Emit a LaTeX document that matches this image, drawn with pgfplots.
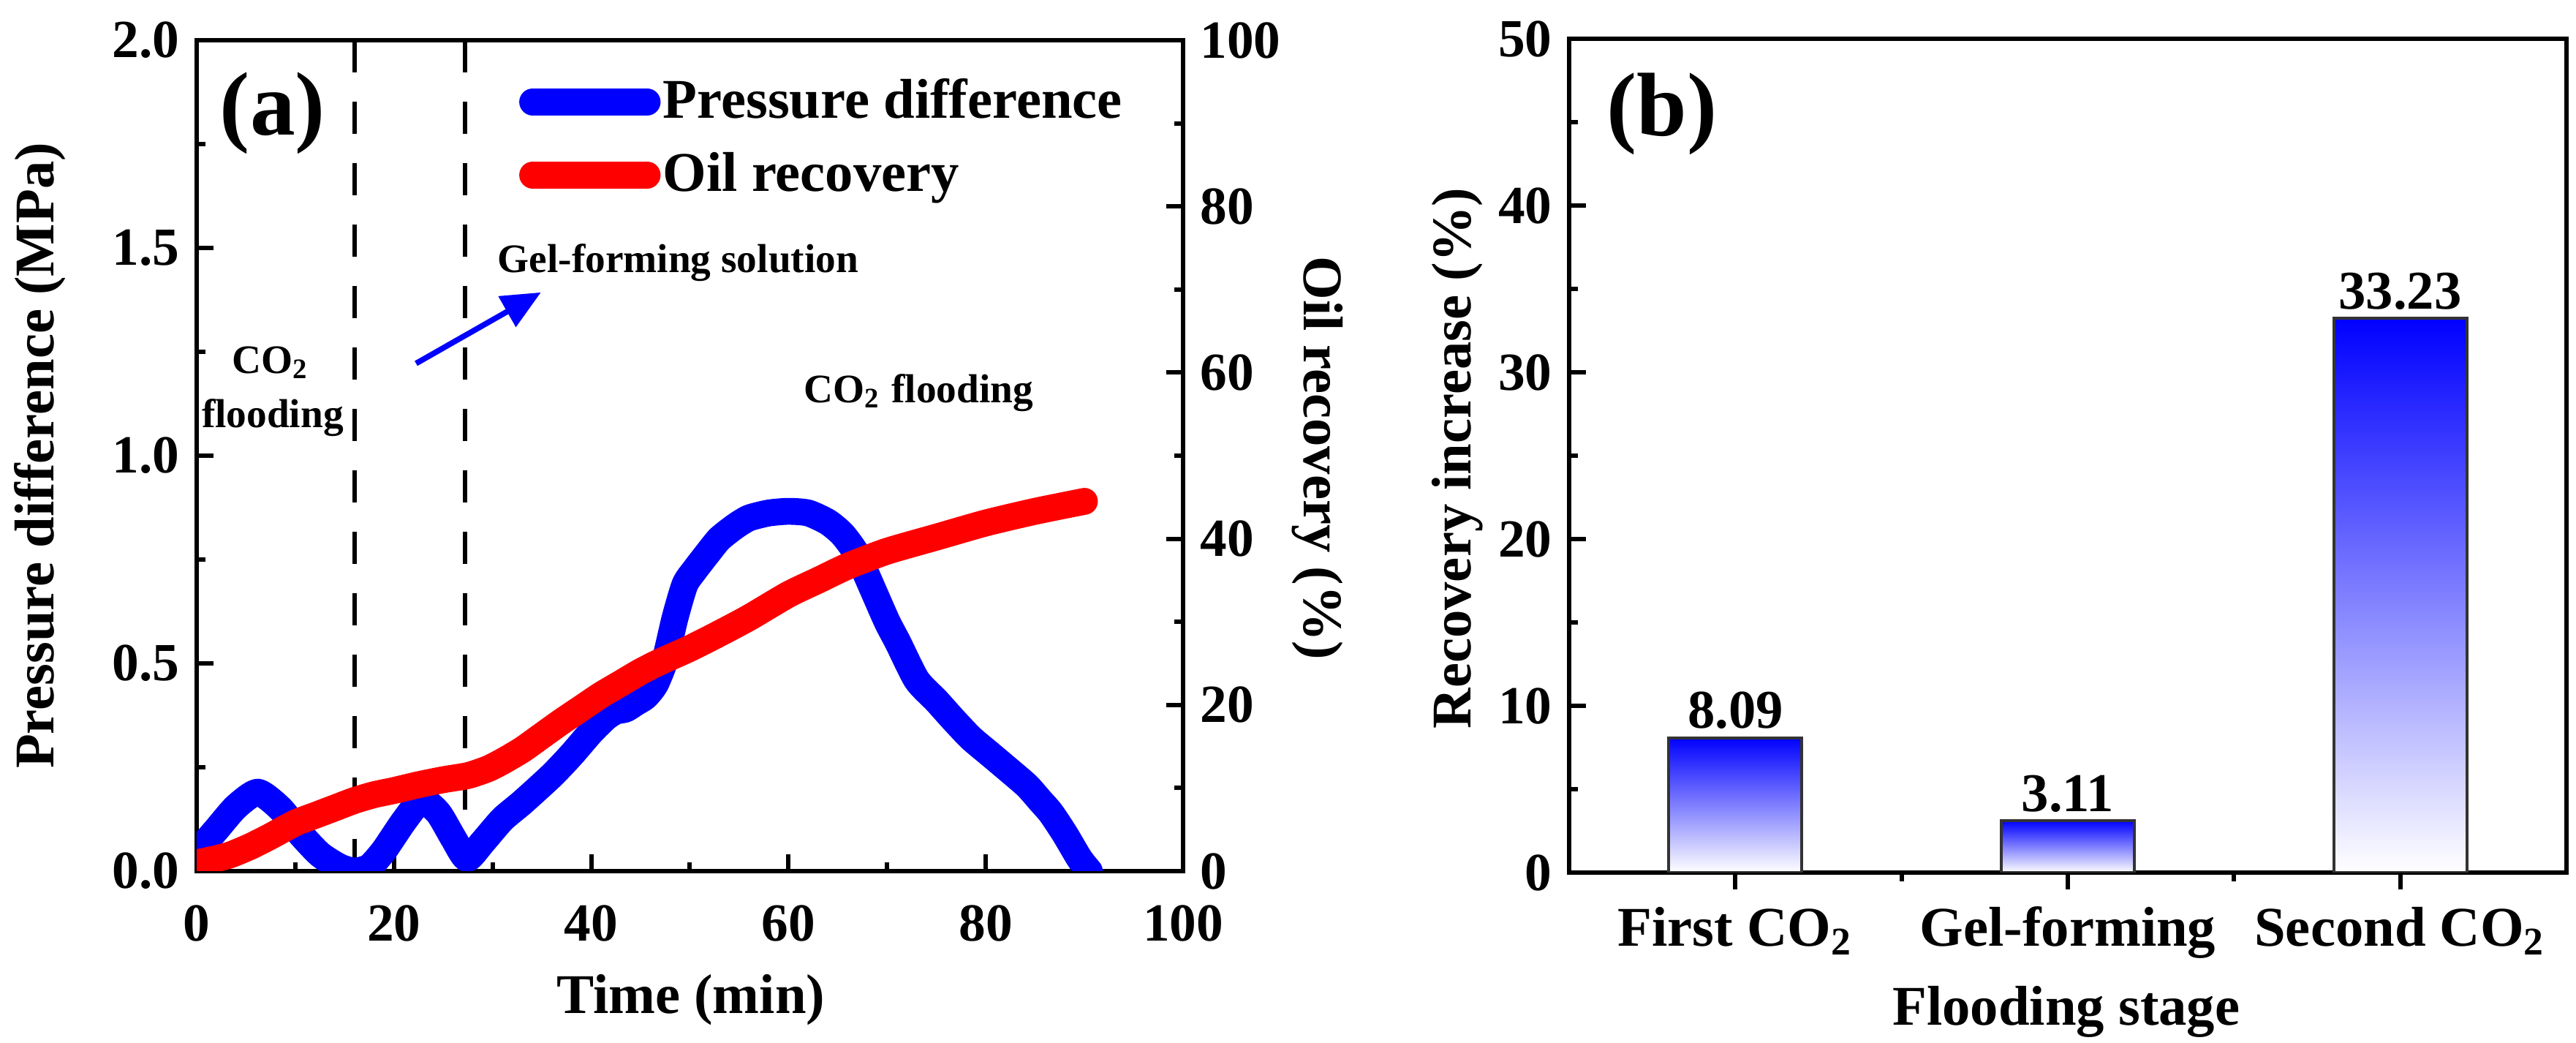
\documentclass[border=0pt]{standalone}
\usepackage{fontspec}
\setmainfont{Liberation Serif}
\usepackage{pgfplots}
\pgfplotsset{compat=1.18}
\usetikzlibrary{arrows.meta}
\pgfplotsset{/pgf/number format/assume math mode=true}
\newcommand\tickfont{\fontsize{11}{12}\selectfont\bfseries}
\newcommand\labfont{\fontsize{11.5}{13}\selectfont\bfseries}
\newcommand\annfont{\fontsize{8.3}{10}\selectfont\bfseries}
\pgfplotsset{
  common/.style={
    scale only axis,
    anchor=south west,
    tick align=inside,
    major tick length=3.5pt,
    minor tick length=1.8pt,
    tick style={black, line width=0.9pt},
    axis line style={line width=0.9pt, black},
    tick label style={font=\tickfont},
  }
}
\begin{document}
\bfseries
\begin{tikzpicture}
\useasboundingbox (0,0) rectangle (528.45pt,213.9pt);

% ---------- panel (a), left axis ----------
\begin{axis}[common,
  at={(40.35pt,35.25pt)}, width=202.35pt, height=170.4pt,
  xmin=0, xmax=100, ymin=0, ymax=2,
  xtick={0,20,40,60,80,100}, ytick={0,0.5,1,1.5,2},
  minor x tick num=1, minor y tick num=1,
  xtick pos=bottom, ytick pos=left,
  yticklabel style={/pgf/number format/.cd, fixed, fixed zerofill, precision=1},
  xticklabel style={yshift=-3.5pt},
  xlabel={Time (min)}, ylabel={Pressure difference (MPa)},
  every axis x label/.style={at={(axis description cs:0.501,-0.155)}, anchor=center, font=\labfont},
  every axis y label/.style={at={(axis description cs:-0.1586,0.5)}, rotate=90, anchor=center, font=\labfont},
]
\addplot[black, line width=0.9pt, dash pattern=on 6.6pt off 6pt] coordinates {(16,0) (16,2)};
\addplot[black, line width=0.9pt, dash pattern=on 6.6pt off 6pt] coordinates {(27.2,0) (27.2,2)};
\addplot[blue, line width=5.5pt, line cap=round, line join=round, smooth, tension=0.4] coordinates {
(0,0.045) (2,0.10) (4,0.155) (6.2,0.19) (8.5,0.15) (10.5,0.09) (12.5,0.04) (14.5,0.01) (16,0.0)
(17.5,0.01) (19,0.05) (21,0.12) (22.8,0.17) (24.5,0.14) (26,0.08) (27.4,0.03) (29,0.07)
(31,0.125) (33,0.165) (36,0.23) (38,0.28) (40,0.335) (41.5,0.37) (42.5,0.385) (43.5,0.39)
(44.5,0.405) (45.5,0.42) (46.5,0.45) (47.5,0.51) (48.5,0.61) (49.5,0.69) (50.5,0.725)
(51.8,0.765) (53,0.80) (54.6,0.83) (56,0.85) (58,0.862) (60,0.866) (62,0.862) (64,0.84)
(65.5,0.81) (67,0.76) (68.7,0.67) (70,0.60) (71.1,0.55) (73,0.46) (75,0.41) (76.7,0.365)
(78.5,0.32) (80.5,0.28) (82.5,0.24) (84.2,0.205) (85.5,0.17) (86.6,0.14) (88,0.09) (89.5,0.03) (90.5,0.0)};
\node[font=\fontsize{18.5}{20}\selectfont\bfseries] at (axis cs:7.7,1.824) {(a)};
\node[font=\annfont] at (axis cs:7.5,1.224) {CO\textsubscript{2}};
\node[font=\annfont] at (axis cs:7.7,1.092) {flooding};
\node[font=\annfont] at (axis cs:48.8,1.465) {Gel-forming solution};
\node[font=\annfont] at (axis cs:73.2,1.151) {CO\textsubscript{2} flooding};
\draw[blue, line width=1.15pt, -{Triangle[length=8pt,width=7pt]}] (axis cs:22.24,1.222) -- (axis cs:34.9,1.393);
\end{axis}

% ---------- panel (a), right axis ----------
\begin{axis}[common,
  at={(40.35pt,35.25pt)}, width=202.35pt, height=170.4pt,
  xmin=0, xmax=100, ymin=0, ymax=100,
  axis x line=none, axis y line*=right,
  y axis line style={-},
  ytick={0,20,40,60,80,100}, minor y tick num=1,
  ylabel={Oil recovery (\%)},
  every axis y label/.style={at={(axis description cs:1.136,0.497)}, rotate=-90, anchor=center, font=\labfont},
  legend cell align=left,
  legend style={draw=none, fill=none, at={(0.326,0.961)}, anchor=north west,
    inner sep=0pt, row sep=3.4pt, font=\labfont,
    nodes={inner sep=0.5pt, text height=8.6pt, text depth=2pt}},
  legend image code/.code={\draw[#1, line cap=round] (0pt,0pt) -- (23.5pt,0pt);},
]
\addlegendimage{blue, line width=5.5pt}
\addlegendentry{Pressure difference}
\addplot[red, line width=5.5pt, line cap=round, line join=round, smooth, tension=0.4] coordinates {
(0,1.0) (2,1.5) (3.5,2.0) (5.5,3.0) (7.5,4.2) (10,5.8) (12,6.7) (14,7.6) (16,8.5) (18,9.2)
(20,9.7) (22.5,10.4) (25,11.0) (27.5,11.5) (29.5,12.3) (31,13.2) (33,14.6) (35,16.3) (37,18.0)
(39,19.6) (41,21.2) (43,22.6) (45,24.0) (47,25.2) (50,26.8) (53,28.6) (56,30.5) (60,33.3)
(63,35.0) (66,36.7) (70,38.5) (75,40.2) (80,41.9) (85,43.3) (90,44.5)};
\addlegendentry{Oil recovery}
\end{axis}

% ---------- panel (b) ----------
\begin{axis}[common,
  at={(321.9pt,34.95pt)}, width=204.6pt, height=171pt,
  xmin=0.5, xmax=3.5, ymin=0, ymax=50,
  xtick={1,2,3}, minor xtick={1.5,2.5},
  xticklabels={First CO\textsubscript{2}, Gel-forming, Second CO\textsubscript{2}},
  xticklabel style={font=\labfont},
  ytick={0,10,20,30,40,50}, minor y tick num=1,
  xtick pos=bottom, ytick pos=left,
  xlabel={Flooding stage}, ylabel={Recovery increase (\%)},
  every axis x label/.style={at={(axis description cs:0.4985,-0.167)}, anchor=center, font=\labfont},
  every axis y label/.style={at={(axis description cs:-0.112,0.497)}, rotate=90, anchor=center, font=\labfont},
  ybar, bar width=0.4,
  nodes near coords,
  every node near coord/.append style={font=\fontsize{11.2}{12}\selectfont\bfseries, inner sep=1.5pt},
]
\addplot[bar shift=0pt, draw=black!80, line width=0.6pt, top color=blue, bottom color=white] coordinates {(1,8.09)};
\addplot[bar shift=0pt, draw=black!80, line width=0.6pt, top color=blue, bottom color=white] coordinates {(2,3.11)};
\addplot[bar shift=0pt, draw=black!80, line width=0.6pt, top color=blue, bottom color=white] coordinates {(3,33.23)};
\node[font=\fontsize{18.5}{20}\selectfont\bfseries] at (axis cs:0.779,45.5) {(b)};
\end{axis}
\end{tikzpicture}
\end{document}
